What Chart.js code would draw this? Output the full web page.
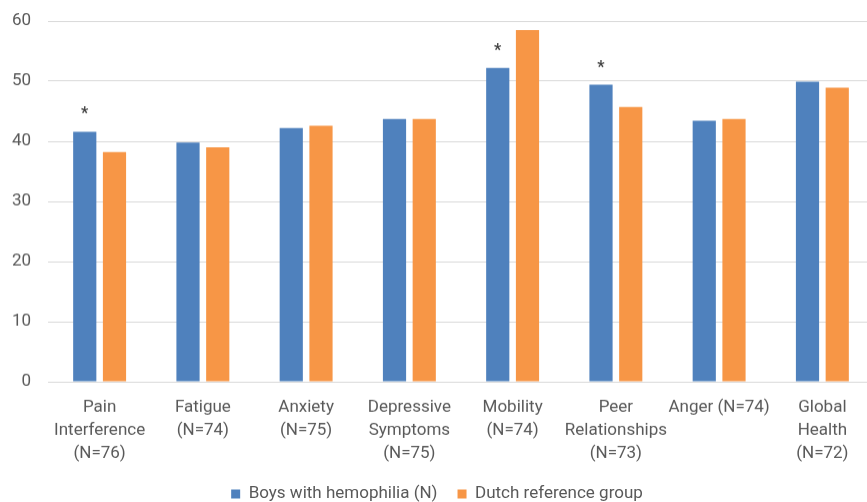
<!DOCTYPE html>
<html>
<head>
<meta charset="utf-8">
<script src="https://cdn.jsdelivr.net/npm/chart.js@4"></script>
<style>
  html, body { margin: 0; padding: 0; background: #fff; overflow: hidden; }
  #wrap { width: 874px; height: 509px; }
</style>
</head>
<body>
<div id="wrap"><canvas id="chart"></canvas></div>
<script>
// categories (multi-line tick labels)
const categories = [
  ['Pain', 'Interference', '(N=76)'],
  ['Fatigue', '(N=74)'],
  ['Anxiety', '(N=75)'],
  ['Depressive', 'Symptoms', '(N=75)'],
  ['Mobility', '(N=74)'],
  ['Peer', 'Relationships', '(N=73)'],
  ['Anger (N=74)'],
  ['Global', 'Health', '(N=72)']
];
const boysValues = [41.6, 39.8, 42.2, 43.7, 52.2, 49.4, 43.4, 49.9];
const dutchValues = [38.2, 39.0, 42.6, 43.7, 58.5, 45.7, 43.7, 48.9];
// significant differences marked with *
const significant = [true, false, false, false, true, true, false, false];
const yTicks = [0, 10, 20, 30, 40, 50, 60];

const FONT = "'Liberation Sans Narrow', 'Roboto', sans-serif";
const TEXT = '#595959';
const LEGEND_PAD = 20;

// plot bottom at 381, legend text centred near 493
let xAxisHeight = 100;

// asterisks above the blue bars
const starPlugin = {
  id: 'stars',
  beforeDraw(chart) {
    // keep the 3-line category labels from being clipped at the axis box
    if (chart.scales.x) chart.scales.x._computeLabelArea = () => null;
  },
  afterDatasetsDraw(chart) {
    const c = chart.ctx;
    const meta = chart.getDatasetMeta(0);
    c.save();
    c.fillStyle = '#404040';
    c.font = 'bold 16px ' + FONT;
    c.textAlign = 'center';
    c.textBaseline = 'alphabetic';
    meta.data.forEach((bar, i) => {
      if (significant[i]) c.fillText('*', bar.x, bar.y - 13);
    });
    c.restore();
  }
};

const ctx = document.getElementById('chart').getContext('2d');
const chart = new Chart(ctx, {
  type: 'bar',
  data: {
    labels: categories,
    datasets: [{
      label: 'Boys with hemophilia (N)',
      data: boysValues,
      backgroundColor: '#4F81BD',
      categoryPercentage: 0.576,
      barPercentage: 0.78
    }, {
      label: 'Dutch reference group',
      data: dutchValues,
      backgroundColor: '#F79646',
      categoryPercentage: 0.576,
      barPercentage: 0.78
    }]
  },
  options: {
    responsive: true,
    maintainAspectRatio: false,
    animation: false,
    layout: { padding: { top: 21, left: 0, right: 0, bottom: 0 } },
    scales: {
      y: {
        min: 0,
        max: 60,
        afterBuildTicks: (s) => { s.ticks = yTicks.map(v => ({ value: v })); },
        afterFit: (s) => { s.width = 48; s.paddingTop = 0; s.paddingBottom = 0; },
        border: { display: false },
        grid: { color: '#D9D9D9', lineWidth: 1, drawTicks: false },
        ticks: { color: TEXT, font: { family: FONT, size: 17 }, padding: 17 }
      },
      x: {
        afterFit: (s) => { s.height = xAxisHeight; s.paddingTop = 0; s.paddingLeft = 0; s.paddingRight = 0; },
        border: { display: false },
        grid: { display: false, drawTicks: false },
        ticks: {
          color: TEXT,
          font: { family: FONT, size: 17, lineHeight: 1.35 },
          padding: 14,
          maxRotation: 0,
          autoSkip: false
        }
      }
    },
    plugins: {
      legend: {
        position: 'bottom',
        labels: {
          color: TEXT,
          font: { family: FONT, size: 17 },
          boxWidth: 9,
          boxHeight: 9,
          padding: LEGEND_PAD
        }
      },
      tooltip: { enabled: false }
    }
  },
  plugins: [starPlugin]
});

// legend height = item + padding + 10; items sit one padding below its top
const lgH = chart.legend.height;
const itemH = lgH - LEGEND_PAD - 10;
const legendTop = 493 - LEGEND_PAD - itemH / 2;
xAxisHeight = legendTop - 381;
document.getElementById('wrap').style.height = (legendTop + lgH) + 'px';
chart.resize();
</script>
</body>
</html>
